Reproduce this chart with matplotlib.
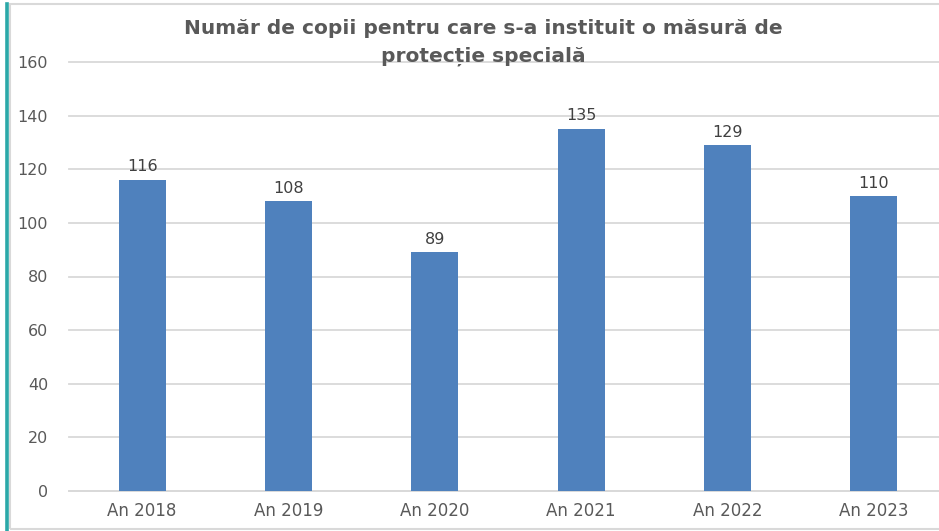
import matplotlib
matplotlib.use("Agg")
import matplotlib.pyplot as plt
from matplotlib.lines import Line2D
from matplotlib.patches import Rectangle

categories = ["An 2018", "An 2019", "An 2020", "An 2021", "An 2022", "An 2023"]
values = [116, 108, 89, 135, 129, 110]
yticks = [0, 20, 40, 60, 80, 100, 120, 140, 160]
title_lines = ["Număr de copii pentru care s-a instituit o măsură de", "protecție specială"]

plt.rcParams['font.family'] = ['DejaVu Sans']
W, H = 939, 531
fig = plt.figure(figsize=(W / 100, H / 100), dpi=100)
fig.patch.set_facecolor("white")

# chart-area border and teal left edge
fig.add_artist(Rectangle((10 / W, 2 / H), 1.2, (527 - 2) / H, transform=fig.transFigure,
                         fill=False, edgecolor="#D9D9D9", linewidth=1.5))
fig.add_artist(Line2D([6.5 / W, 6.5 / W], [1 / H, 527 / H], transform=fig.transFigure,
                      color="#2BA8A8", linewidth=2.6))

left = 69 / W
bottom = (H - 491) / H
top = (H - 62) / H
ax = fig.add_axes([left, bottom, (947 - 69) / W, top - bottom])
x = list(range(len(categories)))
bars = ax.bar(x, values, width=0.32, color="#4F81BD", zorder=3)
ax.set_xlim(-0.5, len(categories) - 0.5)
ax.set_ylim(0, 160)
ax.set_yticks(yticks)
ax.set_xticks(x)
ax.set_xticklabels(categories)
ax.yaxis.grid(True, color="#D9D9D9", linewidth=1.3, zorder=0)
for gl in ax.get_ygridlines():
    gl.set_clip_on(False)
for s in ["top", "right", "left"]:
    ax.spines[s].set_visible(False)
ax.spines["bottom"].set_color("#D9D9D9")
ax.spines["bottom"].set_linewidth(1.3)
ax.tick_params(axis="both", length=0, labelsize=11.5, labelcolor="#595959")
ax.tick_params(axis="x", labelsize=12)
ax.tick_params(axis="y", pad=15)
ax.tick_params(axis="x", pad=8)

for b, v in zip(bars, values):
    ax.annotate(str(v), (b.get_x() + b.get_width() / 2, v), xytext=(0, 4),
                textcoords="offset points", ha="center", va="bottom",
                fontsize=11.5, color="#404040")

cx = 483 / W
fig.text(cx, 1 - 28 / H, title_lines[0], ha="center", va="center",
         fontsize=14.5, fontweight="bold", color="#595959")
fig.text(cx, 1 - 56 / H, title_lines[1], ha="center", va="center",
         fontsize=14.5, fontweight="bold", color="#595959")

fig.savefig("out.png", dpi=100)
